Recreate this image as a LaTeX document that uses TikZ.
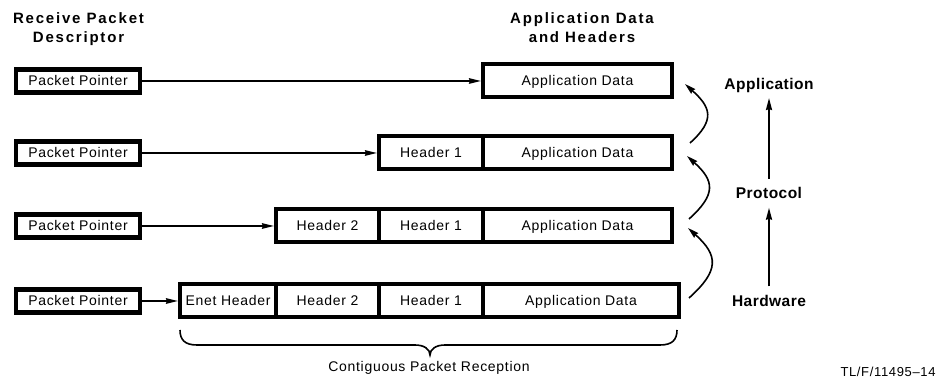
\documentclass[tikz,border=0pt]{standalone}
\usepackage{fontspec}
\setmainfont{Liberation Sans}
\newfontfamily\boxfont[LetterSpace=5]{Liberation Sans}
\newfontfamily\headfont[LetterSpace=12]{Liberation Sans}
\newfontfamily\layerfont[LetterSpace=3]{Liberation Sans}
\usetikzlibrary{arrows.meta,calc}
\begin{document}
\begin{tikzpicture}[x=1pt,y=1pt,
  cell/.style={draw, line width=4pt, minimum height=33pt, inner sep=0pt,
    text height=10pt, text depth=0pt, font={\boxfont\fontsize{14}{16}\selectfont}},
  ptrbox/.style={draw, line width=4.5pt, minimum width=124pt, minimum height=23pt, inner sep=0pt,
    text height=10pt, text depth=0pt, font={\boxfont\fontsize{14}{16}\selectfont}},
  ptr/.style={line width=1.7pt, -{Stealth[length=12pt,width=5.5pt,inset=1pt]}},
  curv/.style={line width=1.6pt, -{Stealth[length=11pt,width=6pt,inset=1pt]}, looseness=1.5},
  uparr/.style={line width=1.9pt, -{Stealth[length=12pt,width=6pt,inset=1pt]}, shorten <=5pt, shorten >=1.5pt},
  title/.style={align=center, inner sep=0pt, font={\headfont\bfseries\fontsize{15}{19}\selectfont}},
  layer/.style={anchor=base, inner xsep=2pt, inner ysep=4pt, text height=11pt, text depth=3pt,
    font={\layerfont\bfseries\fontsize{15.5}{18}\selectfont}},
  plain/.style={anchor=base, inner sep=0pt},
  brc/.style={line width=1.6pt}
]
\useasboundingbox (0,0) rectangle (942,382);

% titles
\node[title] (t1) at (78.5,353) {Receive Packet\\Descriptor};
\node[title] (t2) at (582,354.5) {Application Data\\and Headers};

% packet pointers
\node[ptrbox] (p1) at (78,301) {Packet Pointer};
\node[ptrbox] (p2) at (78,229) {Packet Pointer};
\node[ptrbox] (p3) at (78,156) {Packet Pointer};
\node[ptrbox] (p4) at (78,81) {Packet Pointer};

% row 1
\node[cell, minimum width=189pt] (r1ad) at (577.5,301) {Application Data};
% row 2
\node[cell, minimum width=104pt] (r2h1) at (431,229) {Header 1};
\node[cell, minimum width=189pt] (r2ad) at (577.5,229) {Application Data};
% row 3
\node[cell, minimum width=103pt] (r3h2) at (327.5,156) {Header 2};
\node[cell, minimum width=104pt] (r3h1) at (431,156) {Header 1};
\node[cell, minimum width=189pt] (r3ad) at (577.5,156) {Application Data};
% row 4
\node[cell, minimum width=96pt] (r4en) at (228,81) {Enet Header};
\node[cell, minimum width=103pt] (r4h2) at (327.5,81) {Header 2};
\node[cell, minimum width=104pt] (r4h1) at (431,81) {Header 1};
\node[cell, minimum width=196pt] (r4ad) at (581,81) {Application Data};

% pointer arrows
\draw[ptr] (p1) -- (r1ad);
\draw[ptr] (p2) -- (r2h1);
\draw[ptr] (p3) -- (r3h2);
\draw[ptr] (p4) -- (r4en);

% curved arrows
\coordinate (c4s) at ($(r4ad.east)+(8,3)$);
\coordinate (c3e) at ($(r3ad.east)+(14,-2)$);
\coordinate (c3s) at ($(r3ad.east)+(15,7)$);
\coordinate (c2e) at ($(r2ad.east)+(13,-3)$);
\coordinate (c2s) at ($(r2ad.east)+(16,10)$);
\coordinate (c1e) at ($(r1ad.east)+(11,-3)$);
\draw[curv] (c4s) to[out=42,in=-42] (c3e);
\draw[curv] (c3s) to[out=42,in=-42] (c2e);
\draw[curv] (c2s) to[out=42,in=-42] (c1e);

% layers
\node[layer] (hw) at (769,75.3) {Hardware};
\node[layer] (pr) at (769,183) {Protocol};
\node[layer] (app) at (769,292.7) {Application};
\draw[uparr] (hw) -- (pr);
\draw[uparr] (pr) -- (app);

% brace
\coordinate (bl) at (180,52);
\coordinate (bt) at (430,27);
\coordinate (br) at (677,52);
\draw[brc] (bl) .. controls (180,42) and (185,37) .. (197,37) -- (415,37)
  .. controls (424,37) and (430,33) .. (bt)
  .. controls (430,33) and (436,37) .. (445,37) -- (660,37)
  .. controls (672,37) and (677,42) .. (br);

\node[plain, font={\boxfont\fontsize{14}{16}\selectfont}] (lbl) at (429,10) {Contiguous Packet Reception};
\node[plain, font={\boxfont\fontsize{13}{15}\selectfont}] (tl) at (888,5) {TL/F/11495\textendash 14};
\end{tikzpicture}
\end{document}
